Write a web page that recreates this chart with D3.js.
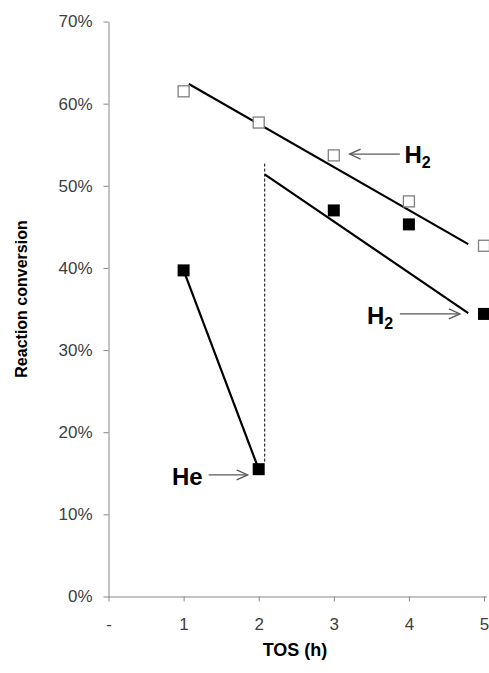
<!DOCTYPE html>
<html>
<head>
<meta charset="utf-8">
<script src="https://cdn.jsdelivr.net/npm/d3@7"></script>
<style>
  html, body { margin: 0; padding: 0; background: #fff; }
  svg { display: block; font-family: "Liberation Sans", Arial, sans-serif; }
</style>
</head>
<body>
<svg id="chart" width="489" height="673"></svg>
<script>
// Time on stream (h)
const hours = [1, 2, 3, 4, 5];
// Conversion under H2 throughout (open squares)
const conversionH2 = [0.615, 0.577, 0.537, 0.481, 0.427];
// Conversion under He for the first two hours, then switched to H2 (filled squares)
const conversionHeThenH2 = [0.397, 0.155, 0.470, 0.453, 0.344];

// Guide lines drawn by hand over the points: [TOS, conversion]
const upperTrend = [[1.07, 0.624], [4.79, 0.429]];
const lowerTrend = [[2.08, 0.514], [4.79, 0.345]];
const switchLine = [[2.08, 0.527], [2.08, 0.162]];

// Axis ticks
const xTicks = [0, 1, 2, 3, 4, 5];
const yTicks = [0, 0.1, 0.2, 0.3, 0.4, 0.5, 0.6, 0.7];

const svg = d3.select("#chart");

const x = d3.scaleLinear().domain([0, 5]).range([108.5, 484]);
const y = d3.scaleLinear().domain([0, 0.7]).range([596.5, 21.5]);

const axisColor = "#868686";
const labelColor = "#404040";
const fontFamily = "Liberation Sans, Arial, sans-serif";

// Y axis
const yAxis = svg.append("g")
  .attr("transform", `translate(${x(0)},0)`)
  .call(d3.axisLeft(y).tickValues(yTicks).tickSize(5).tickSizeOuter(0)
    .tickFormat(d3.format(".0%")));
yAxis.select(".domain").attr("stroke", axisColor);
yAxis.selectAll(".tick line").attr("stroke", axisColor);
yAxis.selectAll(".tick text")
  .attr("fill", labelColor).attr("font-size", 17).attr("x", -16)
  .attr("font-family", fontFamily);

// X axis
const xAxis = svg.append("g")
  .attr("transform", `translate(0,${y(0)})`)
  .call(d3.axisBottom(x).tickValues(xTicks).tickSize(5).tickSizeOuter(0)
    .tickFormat(d => d === 0 ? "-" : d3.format("d")(d)));
xAxis.select(".domain").attr("stroke", axisColor).attr("d", `M${x(0)},0.5H487`);
xAxis.selectAll(".tick line").attr("stroke", axisColor);
xAxis.selectAll(".tick text")
  .attr("fill", labelColor).attr("font-size", 17).attr("y", 21)
  .attr("font-family", fontFamily);

// Axis titles
svg.append("text")
  .attr("transform", `translate(27,299) rotate(-90)`)
  .attr("text-anchor", "middle")
  .attr("font-size", 16).attr("font-weight", "bold").attr("fill", "#000")
  .text("Reaction conversion");

svg.append("text")
  .attr("x", 295).attr("y", 656)
  .attr("text-anchor", "middle")
  .attr("font-size", 18).attr("font-weight", "bold").attr("fill", "#000")
  .text("TOS (h)");

const line = d3.line().x(d => x(d[0])).y(d => y(d[1]));

// Trend lines
svg.append("path").datum(upperTrend).attr("d", line)
  .attr("stroke", "#000").attr("stroke-width", 2.2).attr("fill", "none");
svg.append("path").datum(lowerTrend).attr("d", line)
  .attr("stroke", "#000").attr("stroke-width", 2.2).attr("fill", "none");
svg.append("path")
  .datum([[hours[0], conversionHeThenH2[0]], [hours[1], conversionHeThenH2[1]]])
  .attr("d", line)
  .attr("stroke", "#000").attr("stroke-width", 2.2).attr("fill", "none");

// Gas switch marker
svg.append("path").datum(switchLine).attr("d", line)
  .attr("stroke", "#000").attr("stroke-width", 1).attr("stroke-dasharray", "3,2")
  .attr("fill", "none");

// Open squares: H2
const openSize = 11;
svg.append("g").selectAll("rect")
  .data(hours.map((h, i) => [h, conversionH2[i]]))
  .join("rect")
  .attr("x", d => x(d[0]) - openSize / 2)
  .attr("y", d => y(d[1]) - openSize / 2)
  .attr("width", openSize).attr("height", openSize)
  .attr("fill", "#fff").attr("stroke", "#7f7f7f").attr("stroke-width", 1.3);

// Filled squares: He then H2
const fillSize = 12;
svg.append("g").selectAll("rect")
  .data(hours.map((h, i) => [h, conversionHeThenH2[i]]))
  .join("rect")
  .attr("x", d => x(d[0]) - fillSize / 2)
  .attr("y", d => y(d[1]) - fillSize / 2)
  .attr("width", fillSize).attr("height", fillSize)
  .attr("fill", "#000");

// Annotation arrows with labels
const arrowColor = "#595959";
function arrow(x1, y1, x2, y2) {
  const g = svg.append("g").attr("stroke", arrowColor).attr("stroke-width", 1.3)
    .attr("fill", "none");
  g.append("line").attr("x1", x1).attr("y1", y1).attr("x2", x2).attr("y2", y2);
  const dir = Math.sign(x2 - x1);
  g.append("path")
    .attr("d", `M${x2 - dir * 11},${y2 - 5}L${x2},${y2}L${x2 - dir * 11},${y2 + 5}`);
}
function gasLabel(tx, ty, main, sub, anchor) {
  const t = svg.append("text").attr("x", tx).attr("y", ty)
    .attr("text-anchor", anchor)
    .attr("font-size", 24).attr("font-weight", "bold").attr("fill", "#000");
  t.append("tspan").text(main);
  if (sub) t.append("tspan").attr("font-size", 16).attr("dy", 5).text(sub);
}

arrow(x(3.88), y(0.5386), x(3.21), y(0.5386));
gasLabel(x(3.94), y(0.5386) + 9, "H", "2", "start");

arrow(x(3.88), y(0.344), x(4.68), y(0.344));
gasLabel(x(3.79), y(0.344) + 10, "H", "2", "end");

arrow(x(1.333), y(0.148), x(1.853), y(0.148));
gasLabel(x(1.253), y(0.148) + 10, "He", null, "end");
</script>
</body>
</html>
